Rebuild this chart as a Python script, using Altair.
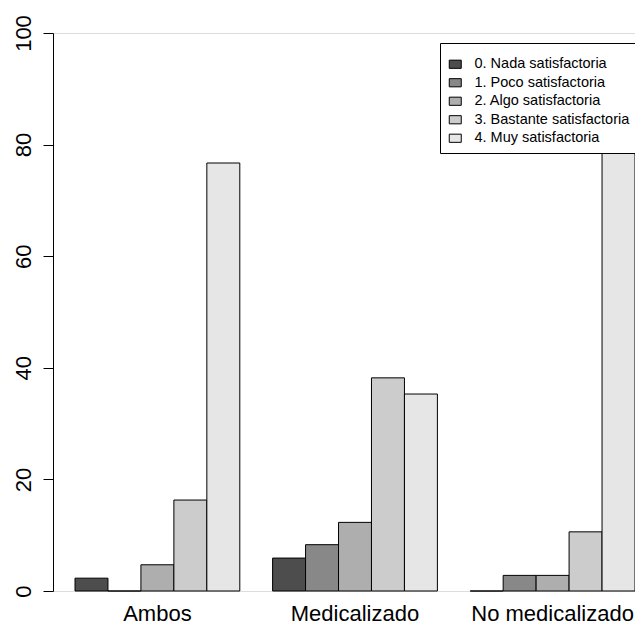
import altair as alt
import pandas as pd

groups = ["Ambos", "Medicalizado", "No medicalizado"]
categories = [
    "0. Nada satisfactoria",
    "1. Poco satisfactoria",
    "2. Algo satisfactoria",
    "3. Bastante satisfactoria",
    "4. Muy satisfactoria",
]
ambos = [2.3, 0.0, 4.7, 16.3, 76.7]
medicalizado = [5.9, 8.3, 12.3, 38.2, 35.3]
no_medicalizado = [0.0, 2.8, 2.8, 10.6, 83.8]
colors = ["#4D4D4D", "#888888", "#AEAEAE", "#CCCCCC", "#E6E6E6"]
y_ticks = [0, 20, 40, 60, 80, 100]

rows = []
for g, vals in zip(groups, [ambos, medicalizado, no_medicalizado]):
    for c, v in zip(categories, vals):
        rows.append({"grupo": g, "cat": c, "pct": v})
df = pd.DataFrame(rows)

FONT = "Liberation Sans"

chart = (
    alt.Chart(df)
    .mark_bar(stroke="black", strokeWidth=1, opacity=1)
    .encode(
        x=alt.X(
            "grupo:N",
            sort=groups,
            scale=alt.Scale(range=[22, 582], paddingInner=0.166, paddingOuter=0),
            axis=alt.Axis(
                title=None,
                domain=False,
                ticks=False,
                tickSize=0,
                labelAngle=0,
                labelFontSize=22,
                labelFont=FONT,
                labelColor="black",
                labelBaseline="alphabetic",
                labelPadding=29,
                labelLimit=400,
            ),
        ),
        xOffset=alt.XOffset(
            "cat:N", sort=categories, scale=alt.Scale(paddingInner=0, paddingOuter=0)
        ),
        y=alt.Y(
            "pct:Q",
            scale=alt.Scale(domain=[0, 100], nice=False, zero=True),
            axis=alt.Axis(
                title=None,
                values=y_ticks,
                grid=False,
                domainColor="black",
                domainWidth=1,
                tickColor="black",
                tickWidth=1,
                tickSize=10,
                labelAngle=-90,
                labelAlign="center",
                labelBaseline="alphabetic",
                labelPadding=13,
                labelFontSize=22,
                labelFont=FONT,
                labelColor="black",
            ),
        ),
        color=alt.Color(
            "cat:N",
            sort=categories,
            scale=alt.Scale(domain=categories, range=colors),
            legend=alt.Legend(
                title=" ",
                titleFontSize=5,
                titlePadding=1,
                orient="none",
                legendX=387,
                legendY=10,
                fillColor="white",
                strokeColor="black",
                padding=8,
                labelFontSize=14.5,
                labelFont=FONT,
                labelColor="black",
                labelLimit=400,
                symbolType="M-1,-0.68L1,-0.68L1,0.68L-1,0.68Z",
                symbolSize=144,
                symbolStrokeColor="black",
                symbolStrokeWidth=1,
                symbolOpacity=1,
                labelOffset=12,
                rowPadding=3.5,
            ),
        ),
    )
    .properties(
        width=582,
        height=558,
        padding={"left": 45, "top": 25, "right": 0, "bottom": 34},
        autosize=alt.AutoSizeParams(type="none"),
    )
    .configure_view(strokeWidth=0)
    .configure(background="white")
)

chart.save("out.html", embed_options={"renderer": "svg", "actions": False})
